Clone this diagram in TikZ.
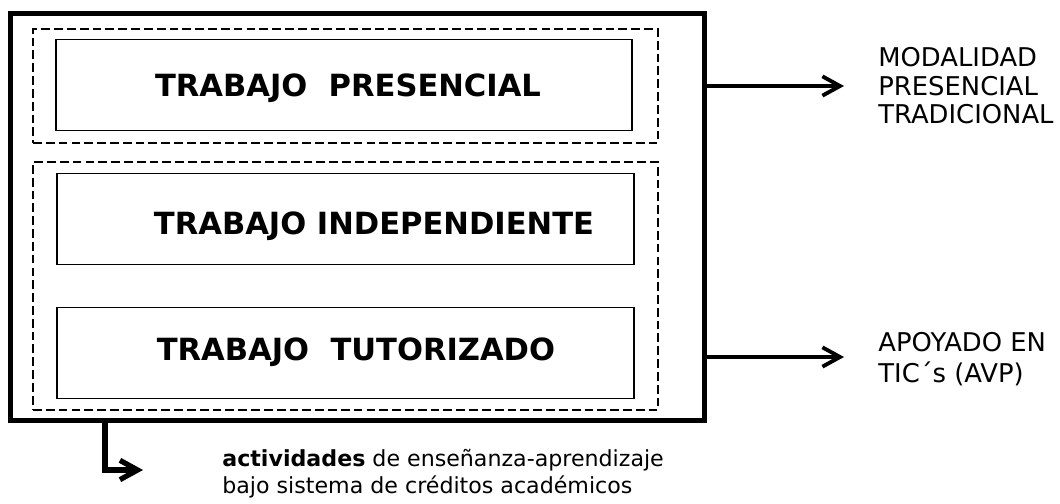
\documentclass[tikz,border=0pt]{standalone}
\usepackage{fontspec}
\setmainfont{DejaVu Sans}
\usetikzlibrary{arrows.meta, positioning}

\begin{document}
\begin{tikzpicture}[x=0.02cm, y=-0.02cm,
    outerbox/.style={draw, line width=2.8pt, minimum width=13.89cm, minimum height=8.14cm, inner sep=0pt},
    dashbox/.style={draw, line width=1pt, dash pattern=on 5pt off 2.3pt, minimum width=12.5cm, inner sep=0pt},
    workbox/.style={draw, line width=1.1pt, minimum width=11.54cm, minimum height=1.82cm, inner sep=0pt},
    worktext/.style={inner sep=0pt, font=\fontsize{17.4}{20}\selectfont\bfseries},
    sidetext/.style={align=left, anchor=west, inner sep=0pt, font=\fontsize{14.7}{16.2}\selectfont},
    arrow/.style={line width=2.2pt, arrows={-Straight Barb[length=10pt, width=11pt]}}]
    \useasboundingbox (0,0) rectangle (1060,503);

    % Nodes
    \node[outerbox] (outer) at (357.75,217) {};
    \node[dashbox, minimum height=2.28cm] (presgroup) at (345.5,86) {};
    \node[dashbox, minimum height=4.96cm] (autogroup) at (345.5,286) {};
    \node[workbox] (pres) at (344,85) {};
    \node[workbox] (indep) at (345.5,219) {};
    \node[workbox] (tutor) at (345.5,353) {};
    \node[worktext] (presT) at (348,88) {TRABAJO\ \ PRESENCIAL};
    \node[worktext] (indepT) at (374,226) {TRABAJO INDEPENDIENTE};
    \node[worktext] (tutorT) at (356,352) {TRABAJO\ \ TUTORIZADO};

    \coordinate (presend) at (844,86);
    \coordinate (tutorend) at (844,357);
    \coordinate (bcorner) at (105,470);
    \coordinate (bend) at (143,470);

    \node[sidetext, right=0.68cm of presend] (modal) {MODALIDAD\\PRESENCIAL\\TRADICIONAL};
    \node[sidetext, right=0.68cm of tutorend, yshift=-0.05cm, font=\fontsize{14.7}{17.6}\selectfont] (apoyo) {APOYADO EN\\TIC´s (AVP)};
    \node[sidetext, right=1.58cm of bend, yshift=-0.08cm, font=\fontsize{12.6}{15.3}\selectfont] (activ) {{\bfseries actividades} de enseñanza-aprendizaje\\bajo sistema de créditos académicos};

    % Connections
    \draw[arrow] (outer.east |- presend) -- (presend);
    \draw[arrow] (outer.east |- tutorend) -- (tutorend);
    \draw[arrow, line width=3pt] (outer.south -| bcorner) |- (bend);
\end{tikzpicture}
\end{document}
